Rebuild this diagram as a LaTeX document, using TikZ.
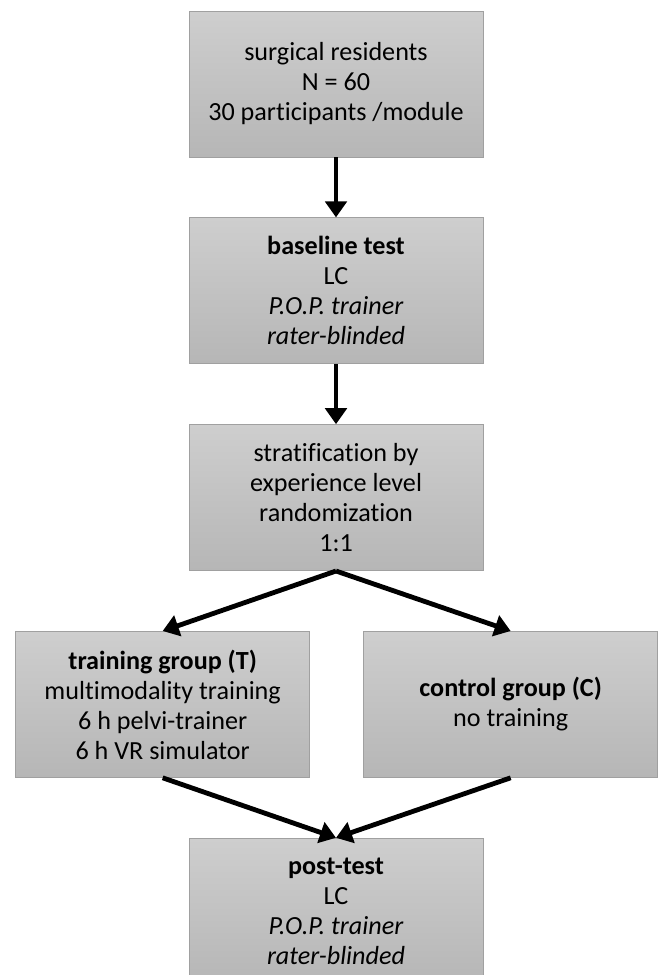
\documentclass[tikz,border=0pt]{standalone}
\usepackage{fontspec}
\setmainfont{Carlito}[Ligatures=NoCommon]
\usepackage{tikz}
\usetikzlibrary{arrows.meta}
\usetikzlibrary{positioning}
\definecolor{boxtop}{RGB}{206,206,206}
\definecolor{boxbot}{RGB}{182,182,182}
\definecolor{boxline}{RGB}{160,160,160}

\begin{document}
\begin{tikzpicture}[-{Triangle[length=12pt,width=16pt]},line width=3.6pt,node distance=45pt,x=0.75pt,y=-0.75pt]
      \tikzstyle{every node}=[font=\fontsize{19.6}{22.5}\selectfont]
      \tikzstyle{stepbox}=[rectangle,draw=boxline,line width=0.6pt,top color=boxtop,bottom color=boxbot,
                           minimum width=220.5pt,minimum height=109.5pt,align=center,inner sep=2pt]

      \useasboundingbox (0,0) rectangle (658,975);

      \node[stepbox]	(res)  at (336,84)  {surgical residents\\N = 60\\30 participants /module};
      \node[stepbox]	(base) [below = of res]   {\textbf{baseline test}\\LC\\\textit{P.O.P. trainer}\\\textit{rater-blinded}};
      \node[stepbox]	(rand) [below = of base]  {stratification by\\experience level\\randomization\\1:1};
      \node[stepbox]	(trn)  [below = of rand, xshift=-130pt] {\textbf{training group (T)}\\multimodality training\\6 h pelvi-trainer\\6 h VR simulator};
      \node[stepbox]	(ctl)  [below = of rand, xshift=131pt]  {\textbf{control group (C)}\\no training};
      \node[stepbox]	(post) [below = of trn, xshift=130pt]   {\textbf{post-test}\\LC\\\textit{P.O.P. trainer}\\\textit{rater-blinded}};

      \path
	(res.south)  edge	(base.north)
	(base.south) edge	(rand.north)
	(rand.south) edge	(trn.north)
	(rand.south) edge	(ctl.north)
	(trn.south)  edge	(post.north)
	(ctl.south)  edge	(post.north);

\end{tikzpicture}
\end{document}
